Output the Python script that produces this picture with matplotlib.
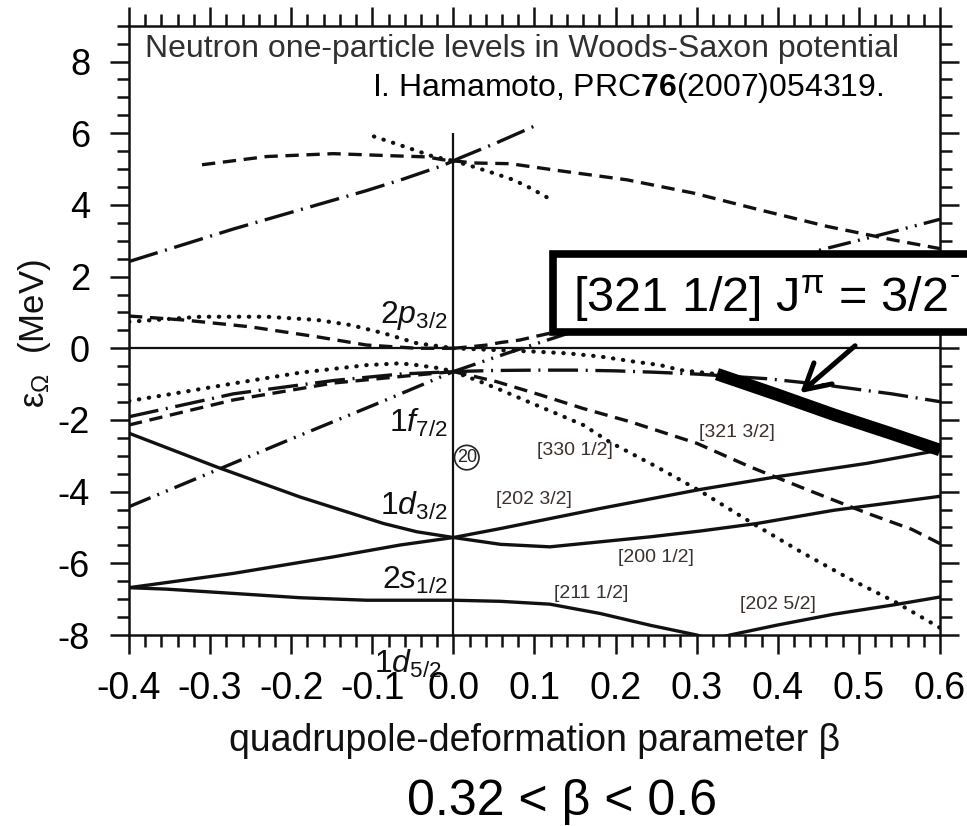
import numpy as np
import matplotlib
matplotlib.use('Agg')
import matplotlib.pyplot as plt
from matplotlib.ticker import MultipleLocator, FixedLocator
from matplotlib.patches import Rectangle

plt.rcParams['font.family'] = ['Liberation Sans', 'DejaVu Sans']
plt.rcParams['mathtext.fontset'] = 'custom'
plt.rcParams['mathtext.rm'] = 'Liberation Sans'
plt.rcParams['mathtext.it'] = 'Liberation Sans:italic'
plt.rcParams['mathtext.bf'] = 'Liberation Sans:bold'
plt.rcParams['axes.unicode_minus'] = False

# ---------------- data ----------------
# solid: positive-parity levels
b_sol_a = [-0.4, -0.292, -0.189, -0.086, -0.045, 0.0, 0.058, 0.119, 0.181, 0.243, 0.304, 0.374, 0.469, 0.6]
e_sol_a = [-2.37, -3.31, -4.15, -4.89, -5.12, -5.28, -5.47, -5.54, -5.40, -5.26, -5.10, -4.89, -4.52, -4.13]
b_sol_b = [-0.4, -0.271, -0.148, -0.066, 0.0, 0.058, 0.181, 0.304, 0.403, 0.51, 0.6]
e_sol_b = [-6.68, -6.28, -5.82, -5.49, -5.28, -5.03, -4.47, -3.94, -3.57, -3.21, -2.84]
b_sol_c = [-0.4, -0.354, -0.271, -0.189, -0.107, 0.0, 0.058, 0.119, 0.181, 0.243, 0.30, 0.33]
e_sol_c = [-6.68, -6.72, -6.84, -6.96, -7.03, -7.03, -7.06, -7.14, -7.40, -7.73, -8.0, -8.2]
b_sol_d = [0.30, 0.341, 0.40, 0.469, 0.54, 0.6]
e_sol_d = [-8.25, -8.0, -7.72, -7.42, -7.17, -6.94]

# dotted: Omega = 1/2
b_dot_a = [-0.4, -0.354, -0.271, -0.189, -0.107, -0.066, -0.045, -0.016, 0.0]
e_dot_a = [-1.47, -1.30, -0.98, -0.68, -0.47, -0.42, -0.47, -0.56, -0.65]
b_dot_b = [-0.4, -0.312, -0.23, -0.168, -0.127, -0.086, -0.045, -0.012, 0.0]
e_dot_b = [0.74, 0.88, 0.88, 0.79, 0.65, 0.42, 0.14, 0.04, 0.0]
b_dot_c = [0.0, 0.053, 0.098, 0.14, 0.181, 0.222, 0.255, 0.28, 0.325, 0.40, 0.47, 0.54, 0.6]
e_dot_c = [0.0, -0.05, -0.09, -0.14, -0.23, -0.37, -0.47, -0.61, -0.72, -1.30, -1.86, -2.38, -2.84]
b_dot_d = [0.0, 0.033, 0.058, 0.09, 0.13, 0.16, 0.193, 0.25, 0.304, 0.37, 0.43, 0.49, 0.545, 0.6]
e_dot_d = [-0.65, -0.93, -1.16, -1.47, -1.85, -2.14, -2.62, -3.30, -3.98, -4.90, -5.70, -6.45, -7.08, -7.80]
b_dot_e = [-0.098, -0.074, -0.049, -0.025, 0.0]
e_dot_e = [5.91, 5.73, 5.54, 5.35, 5.23]
b_dot_f = [0.0, 0.024, 0.049, 0.074, 0.095, 0.117]
e_dot_f = [5.23, 5.07, 4.89, 4.70, 4.47, 4.19]

# dashed: Omega = 3/2
b_dsh_a = [-0.31, -0.23, -0.148, -0.074, -0.033, -0.013, 0.0]
e_dsh_a = [5.12, 5.35, 5.43, 5.37, 5.34, 5.26, 5.23]
b_dsh_b = [0.0, 0.025, 0.07, 0.132, 0.214, 0.296, 0.378, 0.461, 0.543, 0.6]
e_dsh_b = [5.23, 5.17, 5.15, 4.95, 4.70, 4.33, 3.86, 3.40, 3.02, 2.78]
b_dsh_c = [-0.4, -0.333, -0.251, -0.168, -0.107, -0.045, 0.0]
e_dsh_c = [0.90, 0.79, 0.60, 0.32, 0.09, 0.0, 0.0]
b_dsh_d = [0.0, 0.02, 0.041, 0.058, 0.082, 0.103, 0.119, 0.2, 0.3, 0.4, 0.5, 0.6]
e_dsh_d = [0.0, 0.04, 0.09, 0.16, 0.23, 0.34, 0.42, 0.90, 1.45, 1.95, 2.30, 2.55]
b_dsh_e = [-0.4, -0.271, -0.148, -0.066, 0.0]
e_dsh_e = [-2.14, -1.44, -0.97, -0.79, -0.65]
b_dsh_f = [0.0, 0.053, 0.107, 0.16, 0.218, 0.30, 0.366, 0.44, 0.51, 0.565, 0.6]
e_dsh_f = [-0.65, -0.93, -1.30, -1.68, -2.05, -2.65, -3.31, -3.98, -4.60, -5.05, -5.45]

# dash-dot: Omega = 5/2
b_dd_a = [-0.4, -0.271, -0.107, -0.062, -0.013, 0.0]
e_dd_a = [2.42, 3.33, 4.40, 4.72, 5.10, 5.23]
b_dd_b = [0.0, 0.008, 0.053, 0.099]
e_dd_b = [5.23, 5.31, 5.73, 6.19]
b_dd_c = [-0.4, -0.271, -0.148, -0.066, 0.0]
e_dd_c = [-1.91, -1.27, -0.90, -0.72, -0.65]
b_dd_d = [0.0, 0.05, 0.1, 0.15, 0.2, 0.25, 0.3, 0.387, 0.45, 0.54, 0.6]
e_dd_d = [-0.65, -0.62, -0.61, -0.61, -0.63, -0.67, -0.72, -0.85, -1.00, -1.27, -1.49]

# dash-dot-dot: Omega = 7/2
b_ddd_a = [-0.4, -0.292, -0.2, -0.086, 0.0]
e_ddd_a = [-4.42, -3.40, -2.53, -1.47, -0.65]
b_ddd_b = [0.0, 0.066, 0.2, 0.3, 0.452, 0.543, 0.6]
e_ddd_b = [-0.65, -0.14, 0.85, 1.60, 2.74, 3.26, 3.60]

# highlighted part of [321 1/2]
hl_beta_min = 0.325

x_ticks = [-0.4, -0.3, -0.2, -0.1, 0.0, 0.1, 0.2, 0.3, 0.4, 0.5, 0.6]
x_tick_labels = ['-0.4', '-0.3', '-0.2', '-0.1', '0.0', '0.1', '0.2', '0.3', '0.4', '0.5', '0.6']
y_ticks = [-8, -6, -4, -2, 0, 2, 4, 6, 8]
y_tick_labels = ['-8', '-6', '-4', '-2', '0', '2', '4', '6', '8']

# spherical labels: (text, beta, energy-baseline)
sph_labels = [(r'$2p_{3/2}$', -0.0065, 0.70),
              (r'$1f_{7/2}$', -0.0075, -2.33),
              (r'$1d_{3/2}$', -0.0065, -4.66),
              (r'$2s_{1/2}$', -0.0065, -6.70),
              (r'$1d_{5/2}$', -0.015, -9.07)]
# Nilsson labels: (text, beta, energy-center)
nil_labels = [('[330 1/2]', 0.150, -2.84),
              ('[321 3/2]', 0.350, -2.35),
              ('[202 3/2]', 0.0996, -4.21),
              ('[200 1/2]', 0.250, -5.84),
              ('[211 1/2]', 0.170, -6.84),
              ('[202 5/2]', 0.400, -7.14)]

# ---------------- figure ----------------
fig = plt.figure(figsize=(9.67, 8.26), dpi=100)
ax = fig.add_axes([0.13340, 0.23123, 0.83868, 0.73765])

LW = 2.4
st_solid = dict(color='#111111', lw=LW, ls='-')
st_dot = dict(color='#111111', lw=3.0, ls=(0, (0.1, 2.3)), dash_capstyle='round')
st_dash = dict(color='#111111', lw=LW, ls=(0, (4.0, 2.3)))
st_dd = dict(color='#111111', lw=LW, ls=(0, (9.0, 2.3, 0.6, 2.3)))
st_ddd = dict(color='#111111', lw=LW, ls=(0, (7.0, 2.2, 0.6, 2.2, 0.6, 2.2)))

for b, e in [(b_sol_a, e_sol_a), (b_sol_b, e_sol_b), (b_sol_c, e_sol_c), (b_sol_d, e_sol_d)]:
    ax.plot(b, e, **st_solid)
for b, e in [(b_dot_a, e_dot_a), (b_dot_b, e_dot_b), (b_dot_c, e_dot_c), (b_dot_d, e_dot_d),
             (b_dot_e, e_dot_e), (b_dot_f, e_dot_f)]:
    ax.plot(b, e, **st_dot)
for b, e in [(b_dsh_a, e_dsh_a), (b_dsh_b, e_dsh_b), (b_dsh_c, e_dsh_c), (b_dsh_d, e_dsh_d),
             (b_dsh_e, e_dsh_e), (b_dsh_f, e_dsh_f)]:
    ax.plot(b, e, **st_dash)
for b, e in [(b_dd_a, e_dd_a), (b_dd_b, e_dd_b), (b_dd_c, e_dd_c), (b_dd_d, e_dd_d)]:
    ax.plot(b, e, **st_dd)
for b, e in [(b_ddd_a, e_ddd_a), (b_ddd_b, e_ddd_b)]:
    ax.plot(b, e, **st_ddd)

# thick highlight over [321 1/2] for 0.32 < beta < 0.6
bh = np.array(b_dot_c)
eh = np.array(e_dot_c)
m = bh >= hl_beta_min
ax.plot(bh[m], eh[m], color='black', lw=9, solid_capstyle='butt', zorder=4)

# reference lines
ax.axhline(0.0, color='#111111', lw=1.6, zorder=1)
ax.vlines(0.0, -8, 6.0, color='#111111', lw=1.6, zorder=1)

ax.set_xlim(-0.4, 0.6)
ax.set_ylim(-8, 9)
ax.xaxis.set_major_locator(FixedLocator(x_ticks))
ax.set_xticklabels(x_tick_labels)
ax.xaxis.set_minor_locator(MultipleLocator(0.02))
ax.yaxis.set_major_locator(FixedLocator(y_ticks))
ax.set_yticklabels(y_tick_labels)
ax.yaxis.set_minor_locator(MultipleLocator(0.5))
ax.tick_params(which='both', direction='out', top=True, right=True, width=1.8, color='#111111')
ax.tick_params(which='major', length=14)
ax.tick_params(which='minor', length=8.5)
ax.tick_params(axis='x', which='major', labelsize=27, pad=12)
ax.tick_params(axis='y', which='major', labelsize=26, pad=14)
for s in ax.spines.values():
    s.set_linewidth(1.8)
    s.set_color('#111111')

ax.set_xlabel('quadrupole-deformation parameter β', fontsize=27, color='#111111')
ax.xaxis.label.set_va('center')
ax.xaxis.set_label_coords(0.5, -0.174)
ax.set_ylabel(r'$\mathrm{ε}_{\mathrm{Ω}}$  (MeV)', fontsize=25, color='#111111')
ax.yaxis.label.set_va('center')
ax.yaxis.set_label_coords(-0.116, 0.495)

ax.text(-0.380, 8.13, 'Neutron one-particle levels in Woods-Saxon potential',
        fontsize=23, color='#303030', ha='left', va='baseline')
ax.text(0.530, 7.03, r'I. Hamamoto, PRC$\mathbf{76}$(2007)054319.',
        fontsize=23, color='black', ha='right', va='baseline')

for t, b, e in sph_labels:
    ax.text(b, e, t, fontsize=23, ha='right', va='baseline', color='#111111', clip_on=False)
for t, b, e in nil_labels:
    ax.text(b, e, t, fontsize=14, ha='center', va='center', color='#3a302c')

ax.text(0.0165, -3.05, '20', fontsize=13, ha='center', va='center', color='#222222',
        bbox=dict(boxstyle='circle,pad=0.12', fc='white', ec='#222222', lw=1.2))

# annotation box
rect = Rectangle((553 / 967, (826 - 332) / 826), (1010 - 553) / 967, (332 - 254.5) / 826,
                 transform=fig.transFigure, fc='white', ec='black', lw=5.5, clip_on=False, zorder=6)
ax.add_artist(rect)
box_txt = fig.text(573 / 967, (826 - 311.7) / 826, r'[321 1/2] J$^{\mathrm{π}}$ = 3/2',
                   fontsize=35, ha='left', va='baseline', color='black', zorder=7)
renderer = fig.canvas.get_renderer()
bb = box_txt.get_window_extent(renderer)
fig.text((bb.x1 + 2) / 967, (826 - 284) / 826, '-', fontsize=22, ha='left', va='baseline',
         color='black', zorder=7)
ax.annotate('', xy=(0.4276, -1.25), xytext=(0.4953, 0.07),
            arrowprops=dict(arrowstyle='->,head_length=0.9,head_width=0.5', lw=3.6,
                            color='black', mutation_scale=20, shrinkA=0, shrinkB=0),
            zorder=7)

fig.text(407 / 967, (826 - 815) / 826, '0.32 < β < 0.6', fontsize=36, ha='left', va='baseline',
         color='black')

fig.savefig('out.png', dpi=100)
